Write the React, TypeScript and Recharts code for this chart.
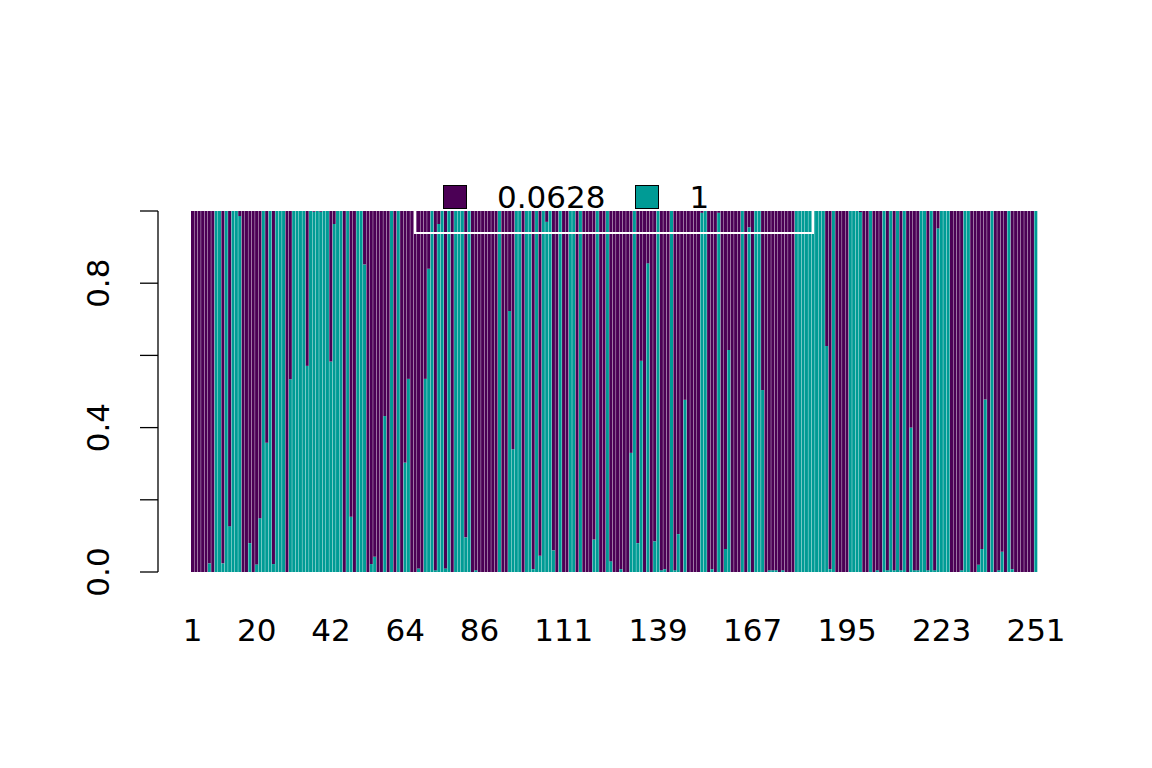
import React from "react";
import { BarChart, Bar, XAxis, YAxis } from "recharts";

// membership share of the second cluster (teal), one value per sample
const sampleIds = Array.from({ length: 251 }, (_, i) => String(i + 1));
const clusterTwo = [
  0, 0, 0, 0, 0, 0.024, 0, 1, 1, 0.024,
  1, 0.127, 1, 1, 0.986, 0, 0, 0.08, 0, 0.021,
  0.149, 1, 0.358, 1, 0.022, 1, 1, 1, 0, 0.534,
  1, 1, 1, 1, 0.571, 1, 0.998, 1, 0.998, 1,
  1, 0.583, 0.964, 1, 1, 0, 1, 0.153, 0, 1,
  1, 0.852, 0, 0.022, 0.042, 0, 0, 0.432, 0, 1,
  0, 1, 0, 0.303, 0.535, 0, 0, 0.01, 0, 0.535,
  0.84, 1, 0.005, 0.964, 1, 0.01, 1, 0, 1, 1,
  1, 0.096, 1, 0, 0.005, 0, 0, 0, 0, 0,
  0, 1, 0, 0, 0.723, 0.34, 1, 1, 0, 1,
  1, 0.008, 1, 0.045, 1, 0.97, 1, 0.06, 0, 1,
  0, 0, 1, 1, 0, 1, 0, 0, 0, 0.09,
  1, 0, 0, 1, 0.03, 0, 0, 0.008, 0, 0,
  0.33, 1, 0.08, 0.585, 0, 0.855, 0, 0.085, 1, 0.005,
  0.008, 0, 1, 0.005, 0.105, 0, 0.477, 0, 0, 0,
  0, 0.995, 1, 0, 0.008, 0, 0.995, 0, 0.064, 0.615,
  0, 0, 0, 1, 0, 0.955, 0, 1, 1, 0.504,
  0, 0.005, 0.005, 0.005, 0, 0.005, 0, 0, 0, 1,
  1, 1, 1, 1, 1, 1, 1, 1, 0.626, 0.008,
  1, 0, 0, 0, 0, 1, 1, 1, 0.997, 0,
  0, 1, 0, 0.005, 0, 1, 0.005, 1, 0.005, 1,
  0.005, 1, 0, 0.4, 0.005, 0.005, 1, 1, 0.005, 1,
  0.005, 0.952, 1, 1, 1, 0, 0, 0, 0.005, 1,
  1, 0, 0, 0.02, 0.064, 0.478, 0, 1, 0, 0.005,
  0.056, 0, 1, 0.008, 0, 0, 0, 0, 0, 0,
  1,
];

const legendNames = ["0.0628", "1"];
const legendColors = ["#4B0055", "#009B95"];
const xLabels = ["1", "20", "42", "64", "86", "111", "139", "167", "195", "223", "251"];
const yTicks = [0, 0.2, 0.4, 0.6, 0.8, 1];
const yLabels = [0, 0.4, 0.8];

const data = sampleIds.map((id, i) => ({
  id,
  teal: clusterTwo[i],
  purple: 1 - clusterTwo[i],
}));

const FONT = "DejaVu Sans";
const FS = 31;

const XTick = (props: any) => {
  const { x, y, payload } = props;
  if (!xLabels.includes(String(payload.value))) return <g />;
  return (
    <text x={x} y={y + 69} textAnchor="middle" fontSize={FS} fontFamily={FONT} fill="#000">
      {payload.value}
    </text>
  );
};

const YTick = (props: any) => {
  const { x, y, payload } = props;
  if (!yLabels.includes(payload.value)) return <g />;
  const tx = x - 31;
  return (
    <text
      x={tx}
      y={y}
      transform={`rotate(-90, ${tx}, ${y})`}
      textAnchor="middle"
      fontSize={FS}
      fontFamily={FONT}
      fill="#000"
    >
      {payload.value.toFixed(1)}
    </text>
  );
};

export default function App() {
  return (
    <div style={{ position: "relative", width: 1152, height: 768, background: "#fff" }}>
      <style>{"body{margin:0}"}</style>
      <BarChart
        width={1152}
        height={768}
        data={data}
        margin={{ top: 211, right: 114.3, bottom: 0, left: 98 }}
        barCategoryGap={0}
        barGap={0}
      >
        <XAxis
          dataKey="id"
          interval={0}
          axisLine={false}
          tickLine={false}
          tickSize={0}
          tickMargin={0}
          height={196}
          padding={{ left: 33, right: 0 }}
          tick={<XTick />}
        />
        <YAxis
          type="number"
          domain={[0, 1]}
          ticks={yTicks}
          interval={0}
          width={60}
          tickSize={18}
          tickMargin={0}
          axisLine={{ stroke: "#000", strokeWidth: 1.3 }}
          tickLine={{ stroke: "#000", strokeWidth: 1.3 }}
          tick={<YTick />}
        />
        <Bar dataKey="teal" stackId="q" fill={legendColors[1]} isAnimationActive={false} />
        <Bar dataKey="purple" stackId="q" fill={legendColors[0]} isAnimationActive={false} />
      </BarChart>
      <div
        style={{
          position: "absolute",
          left: 414,
          top: 160,
          width: 400,
          height: 74,
          border: "2px solid #fff",
          boxSizing: "border-box",
          display: "flex",
          alignItems: "center",
          paddingLeft: 27,
          fontFamily: FONT,
          fontSize: FS,
          color: "#000",
        }}
      >
        {legendNames.map((name, i) => (
          <div key={name} style={{ display: "flex", alignItems: "center", marginRight: 30 }}>
            <div
              style={{
                width: 24,
                height: 24,
                boxSizing: "border-box",
                border: "1.3px solid #000",
                background: legendColors[i],
                marginRight: 30,
              }}
            />
            <span style={{ lineHeight: "31px" }}>{name}</span>
          </div>
        ))}
      </div>
    </div>
  );
}
